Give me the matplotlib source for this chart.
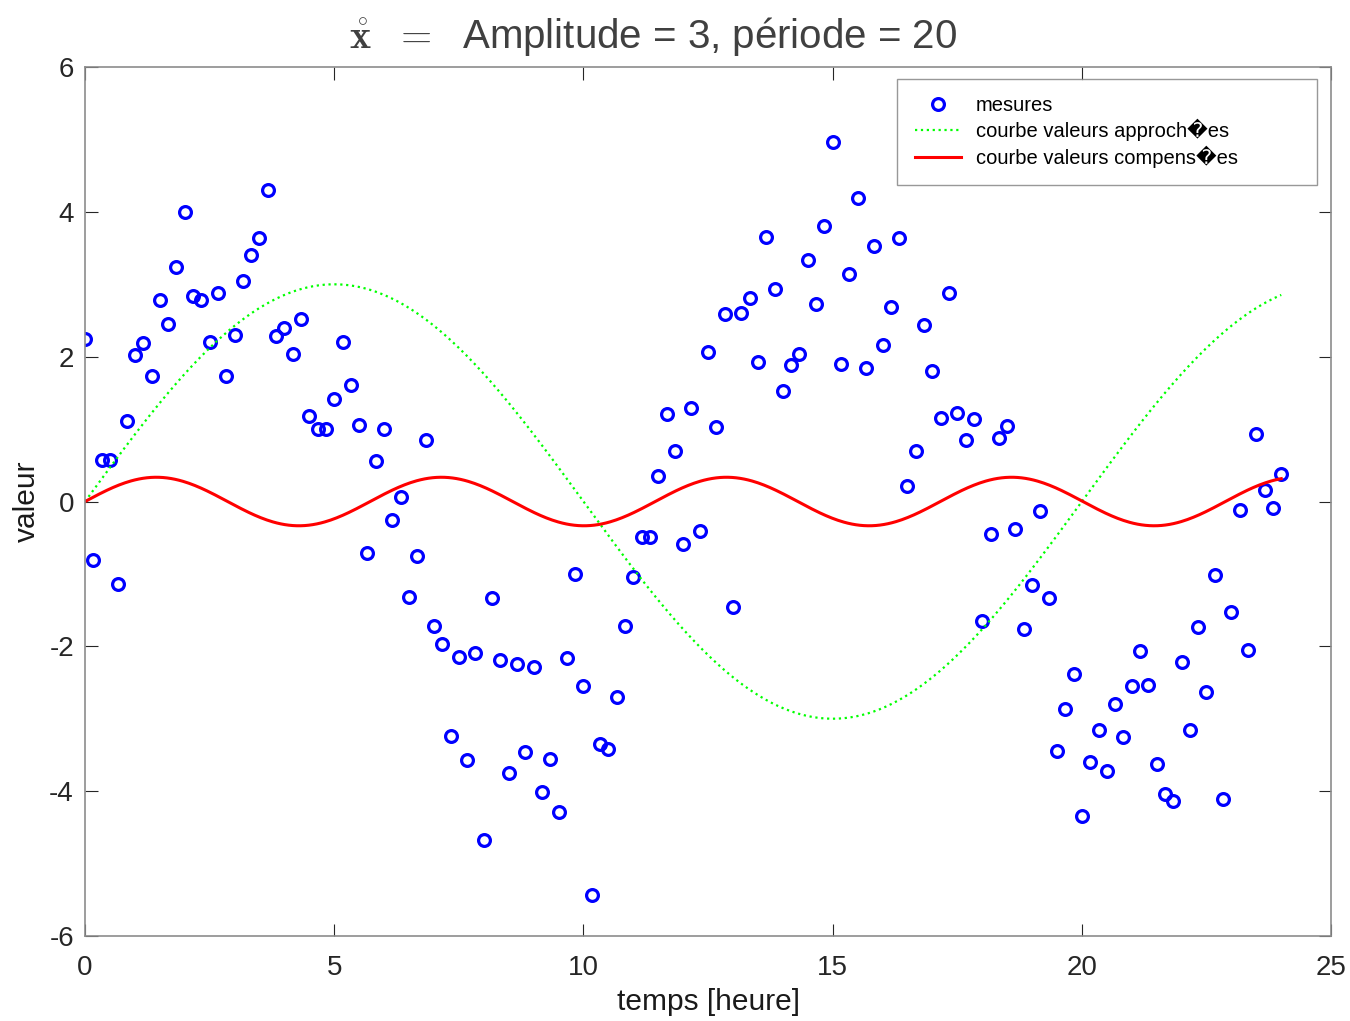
import numpy as np
import matplotlib
matplotlib.use("Agg")
import matplotlib.pyplot as plt

plt.rcParams['font.family'] = ['Liberation Sans', 'DejaVu Sans']
plt.rcParams['mathtext.fontset'] = 'cm'

# Measurements taken every 10 minutes over 24 hours
step_h = 1.0 / 6.0
mesures = [
    2.24, -0.81, 0.57, 0.57, -1.14, 1.11, 2.03, 2.19, 1.73, 2.78,
    2.45, 3.24, 4.00, 2.84, 2.78, 2.20, 2.88, 1.73, 2.30, 3.05,
    3.40, 3.64, 4.30, 2.29, 2.40, 2.04, 2.52, 1.18, 1.00, 1.00,
    1.42, 2.20, 1.61, 1.06, -0.71, 0.56, 1.00, -0.26, 0.06, -1.32,
    -0.75, 0.85, -1.72, -1.97, -3.24, -2.15, -3.57, -2.09, -4.67, -1.33,
    -2.19, -3.75, -2.24, -3.46, -2.29, -4.01, -3.56, -4.29, -2.16, -1.00,
    -2.55, -5.44, -3.35, -3.42, -2.70, -1.72, -1.04, -0.49, -0.49, 0.35,
    1.21, 0.70, -0.59, 1.29, -0.41, 2.06, 1.03, 2.59, -1.46, 2.60,
    2.81, 1.93, 3.65, 2.94, 1.53, 1.89, 2.04, 3.34, 2.73, 3.80,
    4.97, 1.90, 3.14, 4.19, 1.84, 3.53, 2.16, 2.69, 3.64, 0.21,
    0.70, 2.44, 1.80, 1.15, 2.88, 1.22, 0.85, 1.14, -1.65, -0.45,
    0.88, 1.04, -0.38, -1.76, -1.15, -0.13, -1.33, -3.45, -2.87, -2.38,
    -4.34, -3.60, -3.16, -3.72, -2.80, -3.25, -2.55, -2.06, -2.53, -3.63,
    -4.04, -4.14, -2.22, -3.16, -1.73, -2.63, -1.02, -4.11, -1.53, -0.12,
    -2.05, 0.93, 0.16, -0.09, 0.38,
]
temps = np.arange(len(mesures)) * step_h

# Model curves
amplitude = 3.0
periode = 20.0
amplitude_comp = 0.335
periode_comp = 5.72

t_fin = np.linspace(0, temps[-1], 600)
approchees = amplitude * np.sin(2 * np.pi * t_fin / periode)
compensees = amplitude_comp * np.sin(2 * np.pi * t_fin / periode_comp)

xticks = [0, 5, 10, 15, 20, 25]
yticks = [-6, -4, -2, 0, 2, 4, 6]

fig = plt.figure(figsize=(13.5, 10.21), dpi=100)
ax = fig.add_axes([0.063, 0.0833, 0.923, 0.851])

ax.plot(temps, mesures, linestyle='none', marker='o', markersize=8.5,
        markerfacecolor='none', markeredgecolor='#0000ff',
        markeredgewidth=2.3, label='mesures')
ax.plot(t_fin, approchees, linestyle=':', color='#00ff00', linewidth=1.6,
        label='courbe valeurs approch\ufffdes')
ax.plot(t_fin, compensees, linestyle='-', color='#ff0000', linewidth=2.2,
        label='courbe valeurs compens\ufffdes')

ax.set_xlim(0, 25)
ax.set_ylim(-6, 6)
ax.set_xticks(xticks)
ax.set_yticks(yticks)
ax.set_xticklabels([str(v) for v in xticks])
ax.set_yticklabels([str(v) for v in yticks])

ax.tick_params(axis='both', which='major', direction='in', length=9,
               width=0.8, color='#262626', labelsize=20, labelcolor='#262626',
               top=True, right=True, pad=8)
ax.tick_params(axis='x', pad=14)
for sp in ax.spines.values():
    sp.set_color('#8c8c8c')
    sp.set_linewidth(1.2)

ax.set_xlabel('temps [heure]', fontsize=21.5, color='#1a1a1a', labelpad=5)
ax.set_ylabel('valeur', fontsize=21.5, color='#1a1a1a', labelpad=6)

ax.set_title('$\\mathring{\\mathbf{x}}\\ \\ =\\ $ Amplitude = 3, p\u00e9riode = 20',
             fontsize=29, color='#404040', x=0.456, pad=14)

leg = ax.legend(loc='upper left', bbox_to_anchor=(0.652, 0.8665, 0.337, 0.12),
                mode='expand', borderaxespad=0, fontsize=14.5, frameon=True,
                fancybox=False, handlelength=2.3, handletextpad=0.75,
                borderpad=0.85, labelspacing=0.2, numpoints=1)
leg.get_frame().set_edgecolor('#7f7f7f')
leg.get_frame().set_linewidth(1.0)

fig.savefig('out.png', dpi=100, facecolor='white')
